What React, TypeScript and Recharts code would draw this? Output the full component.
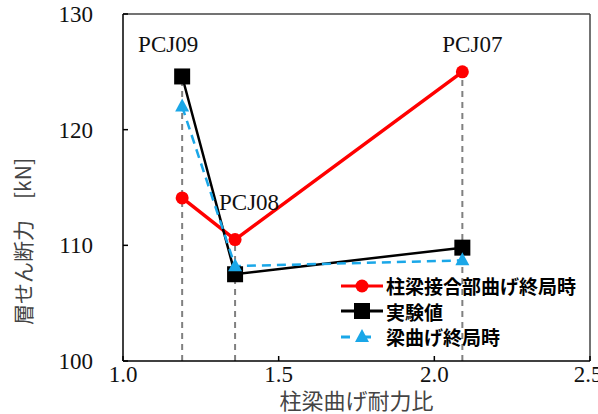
import React from 'react'
import { ComposedChart, Line, XAxis, YAxis, ReferenceDot, ReferenceLine } from 'recharts'

// 柱梁曲げ耐力比 (x) for each specimen
const specimens = ['PCJ09', 'PCJ08', 'PCJ07']
const ratios = [1.19, 1.36, 2.09]
// 層せん断力 [kN]
const jointUltimate = [114.1, 110.5, 125.0] // 柱梁接合部曲げ終局時
const experiment = [124.6, 107.5, 109.8] // 実験値
const beamUltimate = [122.0, 108.2, 108.7] // 梁曲げ終局時

const xTicks = [1.0, 1.5, 2.0, 2.5]
const yTicks = [100, 110, 120, 130]

const series = [
  { key: 'joint', name: '柱梁接合部曲げ終局時', values: jointUltimate, color: '#ff0000', shape: 'circle', dash: undefined },
  { key: 'exp', name: '実験値', values: experiment, color: '#000000', shape: 'square', dash: undefined },
  { key: 'beam', name: '梁曲げ終局時', values: beamUltimate, color: '#1aa7e8', shape: 'triangle', dash: '9 6' },
]

const rows = ratios.map((x, i) => ({
  x,
  joint: jointUltimate[i],
  exp: experiment[i],
  beam: beamUltimate[i],
}))

const SERIF = '"Liberation Serif", "DejaVu Serif", serif'
const JP = '"Noto Sans CJK JP", "Noto Sans", sans-serif'

const Marker = ({ shape, color, cx, cy }: any) => {
  if (cx == null || cy == null) return null
  if (shape === 'circle') return <circle cx={cx} cy={cy} r={6.5} fill={color} />
  if (shape === 'square') return <rect x={cx - 8} y={cy - 8} width={16} height={16} fill={color} />
  return <polygon points={`${cx},${cy - 8} ${cx + 7},${cy + 5} ${cx - 7},${cy + 5}`} fill={color} />
}

const LegendBox = () => (
  <div style={{ position: 'absolute', left: 340, top: 273, fontFamily: JP, fontWeight: 700, fontSize: 19, color: '#000', lineHeight: 1 }}>
    {series.map(s => (
      <div key={s.key} style={{ display: 'flex', alignItems: 'center', height: 25.5 }}>
        <svg width={46} height={20}>
          <line x1={1} y1={10} x2={43} y2={10} stroke={s.color} strokeWidth={3} strokeDasharray={s.dash ? '9 12' : undefined} />
          <Marker shape={s.shape} color={s.color} cx={22} cy={10} />
        </svg>
        <span>{s.name}</span>
      </div>
    ))}
  </div>
)

const YTitle = ({ viewBox }: any) => {
  const x = viewBox.x + 22
  const y = viewBox.y + viewBox.height / 2 + 54
  return (
    <text x={x} y={y} transform={`rotate(-90 ${x} ${y})`} textAnchor="middle" dominantBaseline="central"
      fontFamily={JP} fontSize={21} fill="#444">
      層せん断力　[kN]
    </text>
  )
}

const XTick = ({ x, y, payload }: any) => (
  <text x={x} y={y} dy={16} textAnchor="middle" fontFamily={SERIF} fontSize={23} fill="#111">
    {Number(payload.value).toFixed(1)}
  </text>
)

const YTick = ({ x, y, payload }: any) => (
  <text x={x} y={y} dy={8} textAnchor="end" fontFamily={SERIF} fontSize={23} fill="#111">
    {payload.value}
  </text>
)

const specimenLabel = (text: string, dx: number, dy: number) => ({ viewBox }: any) => (
  <text x={viewBox.x + dx} y={viewBox.y + dy} textAnchor="middle" fontFamily={SERIF} fontSize={23} fill="#111">
    {text}
  </text>
)

const labelOffsets = [[-14, -24], [14, -30], [10, -20]]

export default function App() {
  return (
    <div style={{ position: 'absolute', left: 0, top: 0, width: 598, height: 414, background: '#fff' }}>
      <ComposedChart width={598} height={414} data={rows} margin={{ top: 14, right: 8, bottom: 0, left: 0 }}>
        <XAxis
          type="number"
          dataKey="x"
          domain={[1.0, 2.5]}
          ticks={xTicks}
          axisLine={{ stroke: '#000', strokeWidth: 1.5 }}
          tickLine={{ stroke: '#000', strokeWidth: 1.5 }}
          tickSize={-5}
          tickMargin={10}
          height={53}
          tick={<XTick />}
          label={{ value: '柱梁曲げ耐力比', position: 'insideBottom', offset: 5, fontFamily: JP, fontSize: 22, fill: '#444' }}
        />
        <YAxis
          type="number"
          domain={[100, 130]}
          ticks={yTicks}
          axisLine={{ stroke: '#000', strokeWidth: 1.5 }}
          tickLine={{ stroke: '#000', strokeWidth: 1.5 }}
          tickSize={-5}
          tickMargin={35}
          width={123}
          tick={<YTick />}
          label={<YTitle />}
        />
        <ReferenceLine y={130} stroke="#444" strokeWidth={1.5} ifOverflow="extendDomain" />
        <ReferenceLine x={2.5} stroke="#444" strokeWidth={1.5} ifOverflow="extendDomain" />

        {series.map(s => (
          <Line
            key={s.key}
            dataKey={s.key}
            stroke={s.color}
            strokeWidth={s.key === 'joint' ? 3.5 : 2.5}
            strokeDasharray={s.dash}
            type="linear"
            dot={(p: any) => <Marker key={`${s.key}-${p.index}`} shape={s.shape} color={s.color} cx={p.cx} cy={p.cy} />}
            activeDot={false}
            legendType="none"
            isAnimationActive={false}
          />
        ))}

        {ratios.map((x, i) => (
          <Line
            key={`guide-${i}`}
            data={[
              { x, g: 100 },
              { x, g: Math.max(jointUltimate[i], experiment[i], beamUltimate[i]) },
            ]}
            dataKey="g"
            stroke="#808080"
            strokeWidth={2}
            strokeDasharray="6 5"
            dot={false}
            activeDot={false}
            legendType="none"
            isAnimationActive={false}
          />
        ))}

        {specimens.map((name, i) => {
          const top = Math.max(jointUltimate[i], experiment[i], beamUltimate[i])
          const y = i === 1 ? jointUltimate[i] : top
          return (
            <ReferenceDot key={name} x={ratios[i]} y={y} r={0} fill="none" stroke="none"
              label={specimenLabel(name, labelOffsets[i][0], labelOffsets[i][1])} />
          )
        })}
      </ComposedChart>
      <LegendBox />
    </div>
  )
}
